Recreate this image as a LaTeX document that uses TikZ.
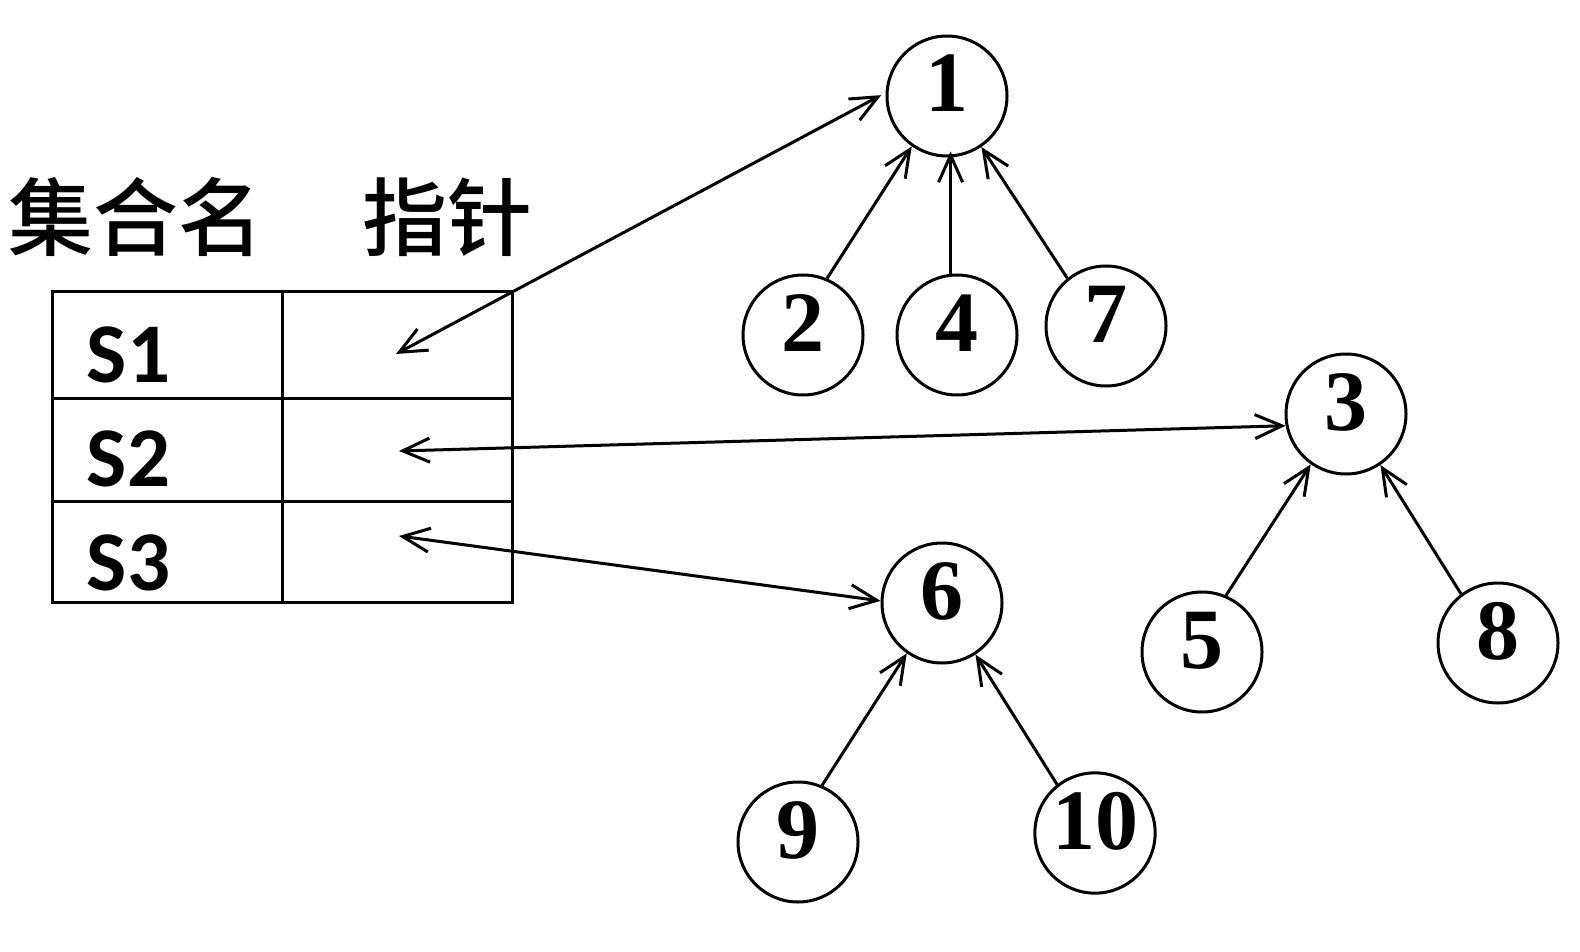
\documentclass[tikz,border=0pt]{standalone}
\usepackage{fontspec}
\setmainfont{Liberation Serif}
\newfontfamily\cjkfont{Noto Sans CJK SC}[BoldFont={Noto Sans CJK SC Medium}]
\newfontfamily\calfont{Carlito}
\usetikzlibrary{arrows.meta}
\begin{document}
\begin{tikzpicture}[x=1pt,y=-1pt,line width=3pt,
  vert/.style={circle,draw,minimum size=120pt,inner sep=0pt,
    font=\fontsize{86}{86}\selectfont\bfseries,text height=58pt,text depth=26pt},
  barb/.tip={Straight Barb[length=27pt,width=24pt]},
  link/.style={-barb},
  dlink/.style={barb-barb},
  setname/.style={anchor=base west,font=\calfont\bfseries\fontsize{85}{85}\selectfont},
  head/.style={anchor=base west,font=\cjkfont\bfseries\fontsize{85}{85}\selectfont}
]
\useasboundingbox (0,0) rectangle (1580,952);

% headings
\node[head] (h1) at (4,250) {集合名};
\node[head] (h2) at (358,250) {指针};

% set table
\draw (52,291) rectangle (512,602);
\draw (282,291) -- (282,602);
\draw (52,398) -- (512,398);
\draw (52,501) -- (512,501);
\node[setname] (s1) at (82,382) {S1};
\node[setname] (s2) at (82,486) {S2};
\node[setname] (s3) at (82,590) {S3};
\coordinate (p1) at (396,354);
\coordinate (p2) at (399,451);
\coordinate (p3) at (399,536);

% trees
\node[vert] (n1) at (947,96) {1};
\node[vert] (n2) at (803,335) {2};
\node[vert] (n4) at (957,335) {4};
\node[vert] (n7) at (1106,326) {7};
\node[vert] (n3) at (1346,414) {3};
\node[vert] (n5) at (1202,652) {5};
\node[vert] (n8) at (1498,643) {8};
\node[vert] (n6) at (942,603) {6};
\node[vert] (n9) at (798,842) {9};
\node[vert] (n10) at (1095,833) {10};

\draw[link] (n2.67) -- (n1.235);
\draw[link,shorten >=-6pt] (n4.96) -- (n4.96 |- n1.south);
\draw[link] (n7.129) -- (n1.304);
\draw[link] (n5.67) -- (n3.235);
\draw[link] (n8.127) -- (n3.304);
\draw[link] (n9.67) -- (n6.235);
\draw[link] (n10.128) -- (n6.303);

% pointers from the table to the roots
\draw[dlink,shorten >=5pt] (p1) -- (n1.177);
\draw[dlink] (p2) -- (n3.191);
\draw[dlink] (p3) -- (n6.178);
\end{tikzpicture}
\end{document}
